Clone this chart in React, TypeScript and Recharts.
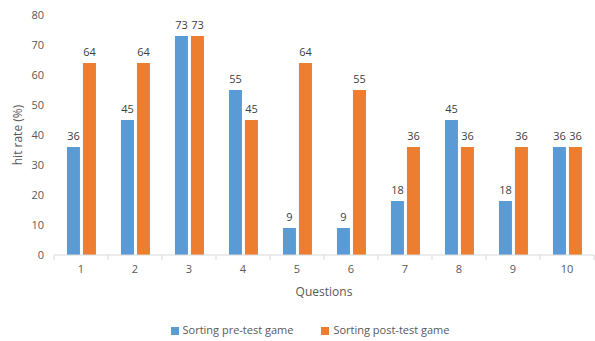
import React from 'react';
import { BarChart, Bar, XAxis, YAxis, Legend, LabelList } from 'recharts';

const questions = ['1', '2', '3', '4', '5', '6', '7', '8', '9', '10'];
const preTest = [36, 45, 73, 55, 9, 9, 18, 45, 18, 36];
const postTest = [64, 64, 73, 45, 64, 55, 36, 36, 36, 36];
const yTicks = [0, 10, 20, 30, 40, 50, 60, 70, 80];

const data = questions.map((q, i) => ({ name: q, pre: preTest[i], post: postTest[i] }));

const font = '"Open Sans", sans-serif';

// ticks sit between the categories, like Excel does
const CategoryTick = (props: any) => {
  const { x, y, payload, index } = props;
  const half = payload.offset || 27;
  return (
    <g>
      <line x1={x - half} x2={x - half} y1={y - 8} y2={y - 3} stroke="#d9d9d9" />
      {index === questions.length - 1 && (
        <line x1={x + half} x2={x + half} y1={y - 8} y2={y - 3} stroke="#d9d9d9" />
      )}
      <text x={x} y={y + 10} textAnchor="middle" fill="#595959" fontSize={11} fontFamily={font}>
        {payload.value}
      </text>
    </g>
  );
};

const legendOrder = (item: any) => (item.dataKey === 'pre' ? 0 : 1);

export default function App() {
  return (
    <div style={{ position: 'absolute', left: 0, top: 0, width: 595, height: 341, background: '#fff' }}>
      <BarChart
        width={595}
        height={341}
        data={data}
        margin={{ top: 15, right: 1, left: 0, bottom: 4 }}
        barCategoryGap="24%"
        barGap={3}
      >
        <XAxis
          dataKey="name"
          stroke="#d9d9d9"
          tickLine={false}
          tick={<CategoryTick />}
          height={45}
          label={{ value: 'Questions', position: 'insideBottom', offset: 4, fill: '#595959', fontSize: 12, fontFamily: font }}
        />
        <YAxis
          domain={[0, 80]}
          ticks={yTicks}
          axisLine={false}
          tickLine={false}
          width={54}
          tickMargin={4}
          tick={{ fill: '#595959', fontSize: 11, fontFamily: font }}
          label={{
            value: 'hit rate (%)',
            angle: -90,
            position: 'insideLeft',
            offset: 18,
            fill: '#595959',
            fontSize: 12,
            fontFamily: font,
            style: { textAnchor: 'middle' },
          }}
        />
        <Legend
          verticalAlign="bottom"
          iconType="square"
          iconSize={8}
          itemSorter={legendOrder}
          wrapperStyle={{ fontFamily: font, fontSize: 11, color: '#595959', paddingTop: 22, paddingLeft: 54, boxSizing: 'border-box' }}
          formatter={(v: string) => <span style={{ color: '#595959', marginRight: 18 }}>{v}</span>}
        />
        <Bar dataKey="pre" name="Sorting pre-test game" fill="#5b9bd5" isAnimationActive={false}>
          <LabelList dataKey="pre" position="top" fill="#404040" fontSize={11} fontFamily={font} offset={7} />
        </Bar>
        <Bar dataKey="post" name="Sorting post-test game" fill="#ed7d31" isAnimationActive={false}>
          <LabelList dataKey="post" position="top" fill="#404040" fontSize={11} fontFamily={font} offset={7} />
        </Bar>
      </BarChart>
    </div>
  );
}
